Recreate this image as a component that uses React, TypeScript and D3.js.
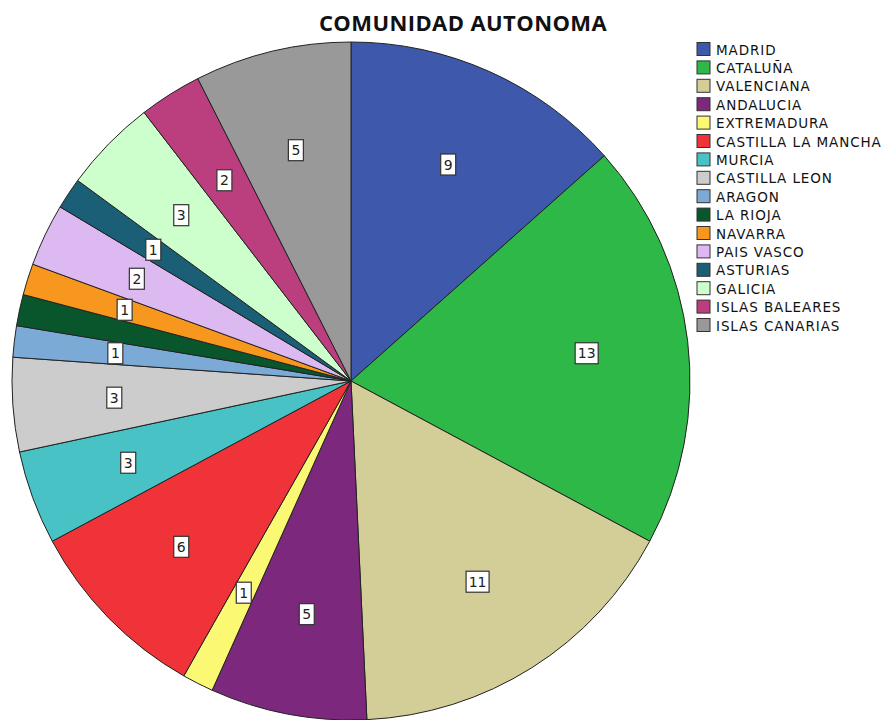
import React from 'react';
import * as d3 from 'd3';

const regions = [
  'MADRID', 'CATALUÑA', 'VALENCIANA', 'ANDALUCIA', 'EXTREMADURA', 'CASTILLA LA MANCHA',
  'MURCIA', 'CASTILLA LEON', 'ARAGON', 'LA RIOJA', 'NAVARRA', 'PAIS VASCO',
  'ASTURIAS', 'GALICIA', 'ISLAS BALEARES', 'ISLAS CANARIAS',
];
const counts = [9, 13, 11, 5, 1, 6, 3, 3, 1, 1, 1, 2, 1, 3, 2, 5];
const colors = [
  '#3E58AC', '#2EB848', '#D3CE97', '#7C287D', '#FBF873', '#EF3338',
  '#48C2C5', '#CCCCCC', '#7BAAD7', '#0A562C', '#F8971E', '#DDB9F1',
  '#1A5F76', '#CCFFCC', '#BB3F7F', '#999999',
];
// the label of this slice is hidden in the original (overlap)
const hiddenLabels = ['LA RIOJA'];

const W = 885;
const H = 720;

const App = () => {
  const cx = 351;
  const cy = 381;
  const r = 339;

  const data = regions.map((name, i) => ({ name, value: counts[i], color: colors[i] }));
  const pie = d3.pie<any>().sort(null).value(d => d.value);
  const arcs = pie(data);
  const arc = d3.arc<any>().innerRadius(0).outerRadius(r);
  const labelArc = d3.arc<any>().innerRadius(r * 0.7).outerRadius(r * 0.7);

  const legendY = d3.scaleBand<string>()
    .domain(regions)
    .range([41, 41 + 18.4 * regions.length]);

  return (
    <svg width={W} height={H} style={{ position: 'absolute', left: 0, top: 0, background: '#fff' }}
      fontFamily="'DejaVu Sans', sans-serif">
      <text x={463} y={31} textAnchor="middle" fontSize={22} letterSpacing={0.4} fontWeight="bold" fill="#111"
        fontFamily="'Open Sans', sans-serif">
        COMUNIDAD AUTONOMA
      </text>
      <g transform={`translate(${cx},${cy})`}>
        {arcs.map((a, i) => (
          <path key={i} d={arc(a) || ''} fill={a.data.color} stroke="#222" strokeWidth={1} />
        ))}
        {arcs.map((a, i) => {
          if (hiddenLabels.includes(a.data.name)) return null;
          const [lx, ly] = labelArc.centroid(a);
          const txt = String(a.data.value);
          const w = txt.length > 1 ? 23 : 15;
          return (
            <g key={'l' + i} transform={`translate(${lx},${ly})`}>
              <rect x={-w / 2} y={-10.5} width={w} height={21} fill="#fff" stroke="#333" strokeWidth={1.2} />
              <text y={5} textAnchor="middle" fontSize={14} fill="#222">{txt}</text>
            </g>
          );
        })}
      </g>
      <g>
        {regions.map((name, i) => {
          const y = legendY(name) || 0;
          return (
            <g key={name} transform={`translate(697,${y})`}>
              <rect x={0} y={1.5} width={13} height={13} fill={colors[i]} stroke="#333" strokeWidth={1} />
              <text x={19} y={13.5} fontSize={13.5} letterSpacing={0.9} fill="#111">{name}</text>
            </g>
          );
        })}
      </g>
    </svg>
  );
};

export default App;
